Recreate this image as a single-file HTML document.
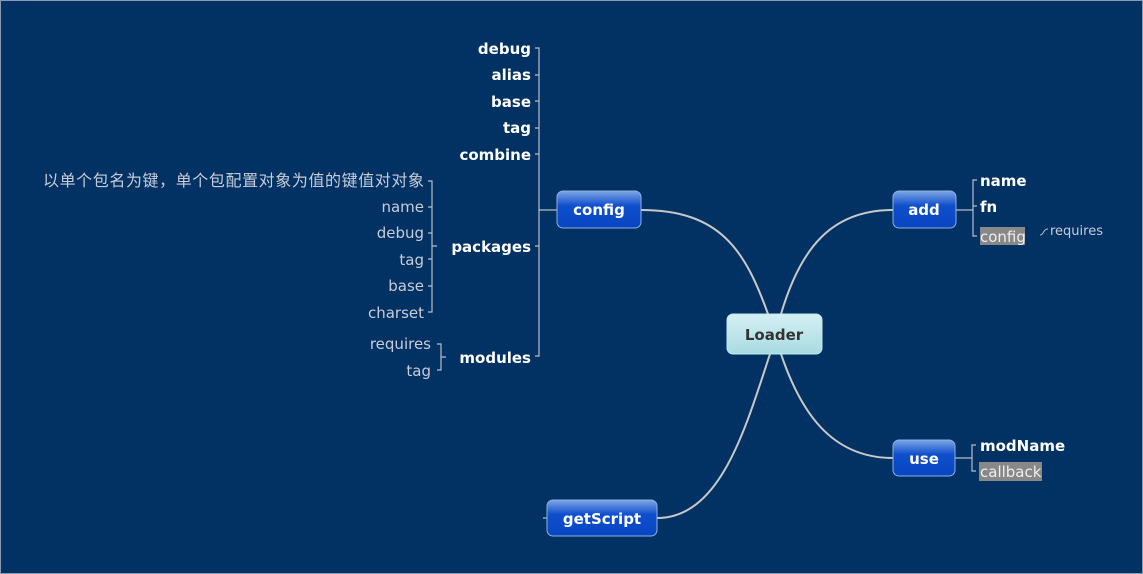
<!DOCTYPE html>
<html><head><meta charset="utf-8"><style>
html,body{margin:0;padding:0;background:#013263;}
svg{display:block}
</style></head><body>
<svg width="1143" height="574" xmlns="http://www.w3.org/2000/svg" font-family="DejaVu Sans, Liberation Sans, sans-serif">
<defs>
<linearGradient id="b" x1="0" y1="0" x2="0" y2="1">
<stop offset="0" stop-color="#7ea6e6"/><stop offset="0.4" stop-color="#0f4fcc"/><stop offset="1" stop-color="#0845c2"/></linearGradient>
<linearGradient id="c" x1="0" y1="0" x2="0" y2="1">
<stop offset="0" stop-color="#d4f0f4"/><stop offset="1" stop-color="#a8dbe2"/></linearGradient>
</defs>
<rect x="0.5" y="0.5" width="1142" height="573" fill="#013263" stroke="#8a9ab0"/>
<g fill="none" stroke="#c8c8c8" stroke-width="2">
<path d="M641 210 C720 210 745 250 768 314"/>
<path d="M893 210 C830 210 800 250 781 314"/>
<path d="M893 458 C830 458 800 410 781 354"/>
<path d="M657 518 C720 518 745 430 770 354"/>
</g>
<g fill="none" stroke="#b8bcc6" stroke-width="1.2">
<path d="M535 48H539V356H535 M535 75H539 M535 101H539 M535 128H539 M535 154H539 M535 246H539 M539 210H557"/>
<path d="M428 181H432V312H428 M428 207H432 M428 233H432 M428 259H432 M428 286H432 M432 246H437"/>
<path d="M437 344H441V370H437 M441 357H446"/>
<path d="M977 180H973V236H977 M956 210H973 M973 206H977"/>
<path d="M976 445H972V471H976 M955 458H972"/>
<path d="M1040 235 C1044 235 1043 229 1048 229" stroke-width="1"/>
<path d="M543 518H547"/>
</g>
<g font-weight="bold" font-size="15" fill="#fff" text-anchor="end">
<text x="531" y="54">debug</text><text x="531" y="80">alias</text><text x="531" y="107">base</text>
<text x="531" y="133">tag</text><text x="531" y="160">combine</text><text x="531" y="252">packages</text><text x="531" y="363">modules</text>
</g>
<g font-size="15" fill="#c8ccd8" text-anchor="end">
<text x="424" y="186" font-size="16" font-family="Noto Sans CJK SC, sans-serif" textLength="381">以单个包名为键，单个包配置对象为值的键值对对象</text>
<text x="424" y="212">name</text><text x="424" y="238">debug</text><text x="424" y="265">tag</text>
<text x="424" y="291">base</text><text x="424" y="318">charset</text>
<text x="431" y="349">requires</text><text x="431" y="376">tag</text>
</g>
<rect x="557" y="191" width="84" height="37" rx="6" fill="url(#b)" stroke="#8fb0e0"/>
<rect x="893" y="191" width="63" height="37" rx="6" fill="url(#b)" stroke="#8fb0e0"/>
<rect x="893" y="440" width="62" height="36" rx="6" fill="url(#b)" stroke="#8fb0e0"/>
<rect x="547" y="500" width="110" height="36" rx="6" fill="url(#b)" stroke="#8fb0e0"/>
<rect x="727" y="314" width="95" height="40" rx="6" fill="url(#c)" stroke="#c0e8ee"/>
<g font-weight="bold" font-size="15" fill="#fff" text-anchor="middle">
<text x="599" y="215">config</text><text x="924" y="215">add</text><text x="924" y="464">use</text><text x="602" y="524">getScript</text>
</g>
<text x="774" y="340" font-weight="bold" font-size="15" fill="#333" text-anchor="middle">Loader</text>
<g font-size="15" fill="#fff">
<text x="980" y="186" font-weight="bold">name</text><text x="980" y="212" font-weight="bold">fn</text>
<text x="980" y="451" font-weight="bold">modName</text>
<rect x="980" y="227" width="45" height="18" fill="#888"/><text x="980" y="242" fill="#eee">config</text>
<rect x="979" y="462" width="63" height="19" fill="#888"/><text x="980" y="477" fill="#eee">callback</text>
<text x="1050" y="235" font-size="13" fill="#c8ccd8">requires</text>
</g>
</svg>
</body></html>
